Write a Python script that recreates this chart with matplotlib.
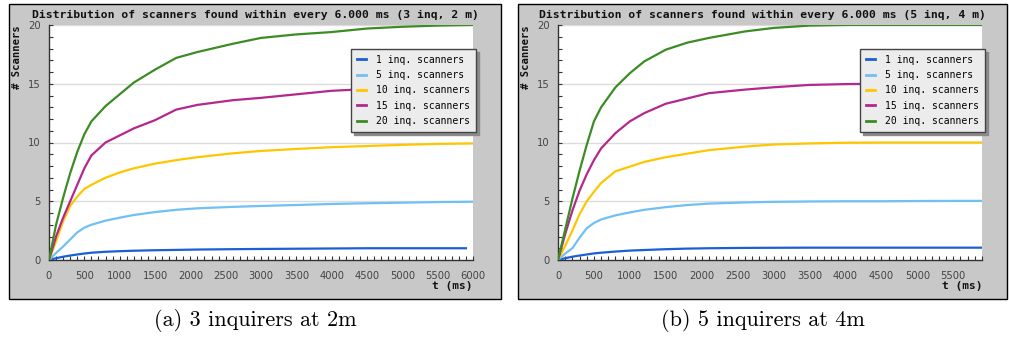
import numpy as np, matplotlib
matplotlib.use('Agg'); import matplotlib.pyplot as plt
from matplotlib.patches import Rectangle
from matplotlib.ticker import MultipleLocator

# ---------- data ----------
labels = ['1 inq. scanners', '5 inq. scanners', '10 inq. scanners', '15 inq. scanners', '20 inq. scanners']
colors = ['#1a5fd6', '#6ec0f5', '#ffc600', '#b4288e', '#3c8c24']

t_a = [0, 100, 200, 300, 400, 500, 600, 800, 1000, 1200, 1500, 1800, 2100, 2600, 3000, 3500, 4000, 4500, 5000, 5500, 6000]
t_a_blue = [0, 100, 200, 300, 400, 500, 600, 800, 1000, 1200, 1500, 1800, 2100, 2600, 3000, 3500, 4000, 4500, 5000, 5500, 5900]
inq1_a = [0, 0.15, 0.28, 0.38, 0.47, 0.55, 0.62, 0.70, 0.75, 0.79, 0.83, 0.86, 0.89, 0.92, 0.94, 0.96, 0.98, 1.0, 1.0, 1.0, 1.0]
inq5_a = [0, 0.6, 1.15, 1.75, 2.35, 2.75, 3.0, 3.35, 3.6, 3.83, 4.08, 4.27, 4.4, 4.52, 4.6, 4.68, 4.77, 4.83, 4.88, 4.93, 4.96]
inq10_a = [0, 1.6, 3.3, 4.6, 5.4, 6.05, 6.4, 7.0, 7.45, 7.8, 8.2, 8.5, 8.75, 9.08, 9.28, 9.45, 9.6, 9.7, 9.8, 9.88, 9.92]
inq15_a = [0, 2.0, 3.6, 5.0, 6.4, 7.8, 8.9, 10.0, 10.6, 11.2, 11.9, 12.8, 13.2, 13.6, 13.8, 14.1, 14.4, 14.55, 14.7, 14.8, 14.9]
inq20_a = [0, 3.0, 5.3, 7.4, 9.2, 10.7, 11.8, 13.1, 14.1, 15.1, 16.2, 17.2, 17.7, 18.4, 18.9, 19.2, 19.4, 19.7, 19.85, 19.95, 20.0]

t_b = [0, 100, 200, 300, 400, 500, 600, 800, 1000, 1200, 1500, 1800, 2100, 2600, 3000, 3500, 4000, 4500, 5000, 5500, 5900]
inq1_b = [0, 0.15, 0.28, 0.38, 0.47, 0.56, 0.62, 0.72, 0.80, 0.85, 0.92, 0.97, 1.0, 1.03, 1.04, 1.05, 1.05, 1.05, 1.05, 1.05, 1.05]
inq5_b = [0, 0.55, 1.0, 1.9, 2.7, 3.15, 3.45, 3.8, 4.05, 4.27, 4.5, 4.68, 4.8, 4.9, 4.95, 4.98, 5.0, 5.0, 5.02, 5.03, 5.03]
inq10_b = [0, 1.2, 2.5, 3.9, 5.0, 5.8, 6.55, 7.55, 7.95, 8.35, 8.75, 9.05, 9.35, 9.65, 9.83, 9.92, 9.98, 10.0, 10.0, 10.0, 10.0]
inq15_b = [0, 2.2, 4.2, 5.9, 7.3, 8.5, 9.5, 10.8, 11.8, 12.5, 13.3, 13.75, 14.2, 14.5, 14.7, 14.9, 14.97, 15.0, 15.0, 15.0, 15.0]
inq20_b = [0, 2.6, 5.2, 7.6, 9.8, 11.8, 13.0, 14.7, 15.9, 16.9, 17.9, 18.5, 18.9, 19.45, 19.75, 19.95, 20.0, 20.0, 20.0, 20.0, 20.0]

W, H = 1009, 338
fig = plt.figure(figsize=(W/100, H/100), dpi=100)
MONO = 'DejaVu Sans Mono'

def box(x0, y0, x1, y1):
    fig.add_artist(Rectangle((x0/W, 1-y1/H), (x1-x0)/W, (y1-y0)/H, transform=fig.transFigure,
                             fc='#c8c8c8', ec='black', lw=1.0, zorder=0))

def panel(bx, ax_x0, xmax, title, series, xticks, caption):
    box(bx[0], 4, bx[1], 299)
    ax = fig.add_axes([ax_x0/W, 1-260/H, 424/W, 235/H])
    ax.set_facecolor('white')
    for s in ['top', 'right']: ax.spines[s].set_visible(False)
    for s in ['left', 'bottom']: ax.spines[s].set_color('#333'); ax.spines[s].set_linewidth(1.0)
    for y in (5, 10, 15, 20): ax.axhline(y, color='#dcdcdc', lw=1.0, zorder=1)
    for (t, v), c, lab in zip(series, colors, labels):
        ax.plot(t, v, color=c, lw=1.6, label=lab, zorder=3, solid_joinstyle='round')
    ax.set_xlim(0, xmax); ax.set_ylim(0, 20)
    ax.set_xticks(xticks); ax.xaxis.set_minor_locator(MultipleLocator(100))
    ax.set_yticks([0, 5, 10, 15, 20]); ax.yaxis.set_minor_locator(MultipleLocator(1))
    ax.tick_params(which='both', direction='in', length=3.2, width=0.8, color='#333')
    ax.tick_params(axis='x', which='major', pad=8, labelsize=7.2, labelcolor='#444')
    ax.tick_params(axis='y', which='major', pad=6, labelsize=7.2, labelcolor='#444')
    leg = ax.legend(loc='upper right', bbox_to_anchor=(1.007, 0.898), borderaxespad=0,
                    fancybox=False, shadow={'color': '#8a8a8a', 'alpha': 1.0},
                    prop={'family': MONO, 'size': 7}, handlelength=1.0, handletextpad=1.0,
                    labelspacing=0.55, borderpad=0.6, framealpha=1)
    leg.get_frame().set_facecolor('#ececec'); leg.get_frame().set_edgecolor('#444'); leg.get_frame().set_linewidth(1.0)
    for l in leg.get_lines(): l.set_linewidth(2.0)
    cx = (bx[0]+bx[1])/2
    fig.text(cx/W, 1-15/H, title, ha='center', va='center', family=MONO, fontweight='bold', fontsize=8.2, color='#111')
    fig.text((bx[0]+8)/W, 1-57/H, '# Scanners', ha='center', va='center', rotation=90, family=MONO,
             fontweight='bold', fontsize=7.6, color='#111')
    fig.text((ax_x0+424)/W, 1-286/H, 't (ms)', ha='right', va='center', family=MONO,
             fontweight='bold', fontsize=8, color='#111')
    fig.text(cx/W, 1-321/H, caption, ha='center', va='center', family='cmr10', fontsize=16)
    return ax

panel((9, 501), 49, 6000, 'Distribution of scanners found within every 6.000 ms (3 inq, 2 m)',
      [(t_a_blue, inq1_a), (t_a, inq5_a), (t_a, inq10_a), (t_a, inq15_a), (t_a, inq20_a)],
      list(range(0, 6001, 500)), '(a) 3 inquirers at 2m')
panel((518, 1007), 558, 5900, 'Distribution of scanners found within every 6.000 ms (5 inq, 4 m)',
      [(t_b, inq1_b), (t_b, inq5_b), (t_b, inq10_b), (t_b, inq15_b), (t_b, inq20_b)],
      list(range(0, 5501, 500)), '(b) 5 inquirers at 4m')

fig.savefig('out.png', dpi=100)
